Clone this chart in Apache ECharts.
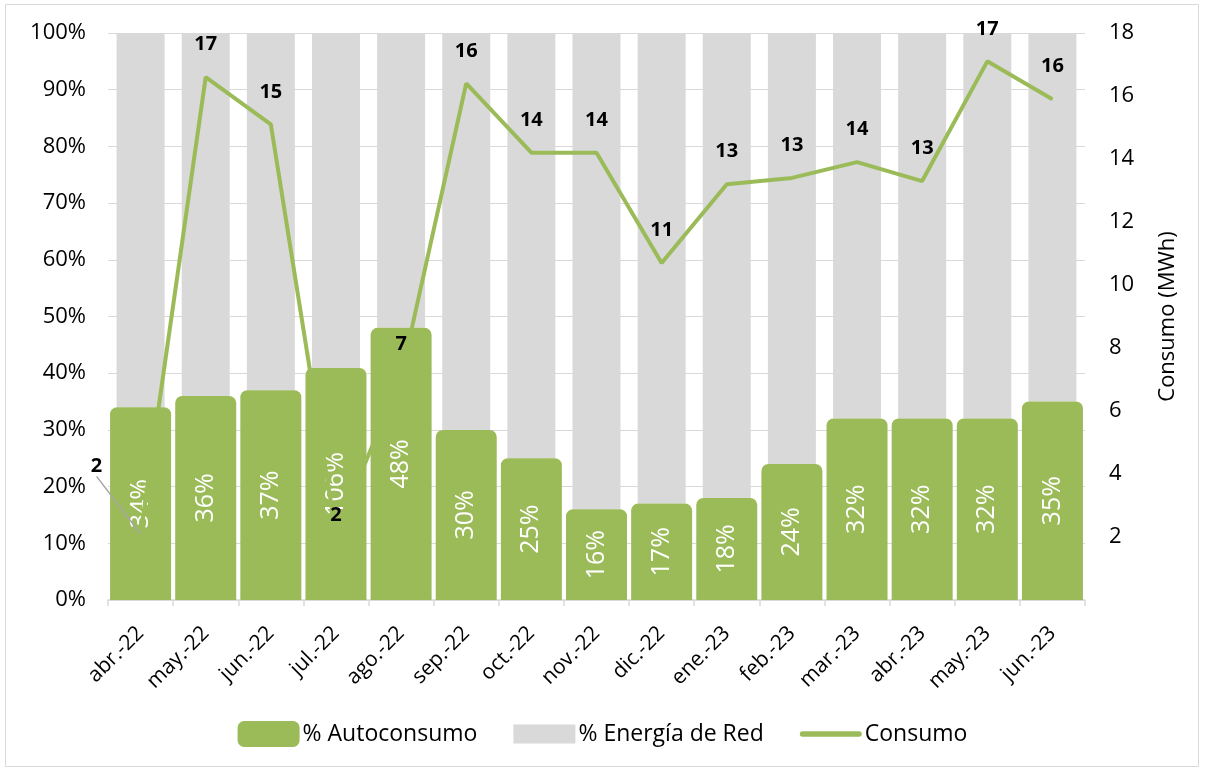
<!DOCTYPE html>
<html><head><meta charset="utf-8">
<script src="https://cdn.jsdelivr.net/npm/echarts@6/dist/echarts.min.js"></script>
<style>html,body{margin:0;padding:0;background:#fff}#c{width:1205px;height:771px}</style>
</head><body><div id="c"></div>
<script>
const categories = ['abr.-22','may.-22','jun.-22','jul.-22','ago.-22','sep.-22','oct.-22','nov.-22','dic.-22','ene.-23','feb.-23','mar.-23','abr.-23','may.-23','jun.-23'];
const autoconsumo = [34,36,37,106,48,30,25,16,17,18,24,32,32,32,35];
const energiaRed = [66,64,63,153,52,70,75,84,83,82,76,68,68,68,65];
const consumo = [2.1,16.6,15.1,2.1,7.1,16.4,14.2,14.2,10.7,13.2,13.4,13.9,13.3,17.1,15.9];
const pctTicks = [0,10,20,30,40,50,60,70,80,90,100];

const totals = autoconsumo.map((v,i)=>v+energiaRed[i]);
const autoShare = autoconsumo.map((v,i)=>v/totals[i]*100);
const redShare = energiaRed.map((v,i)=>v/totals[i]*100);
const GREEN = '#9BBB59', GRAY = '#D9D9D9';
const FONT = '"Open Sans", "Noto Sans", sans-serif';

const consumoData = consumo.map((v,i)=> i===0
  ? {value:v, labelLine:{show:true,lineStyle:{color:'#A6A6A6',width:1.5}}}
  : v);

const chart = echarts.init(document.getElementById('c'));
chart.setOption({
  animation:false,
  textStyle:{fontFamily:FONT},
  graphic:[{type:'rect',shape:{x:5.5,y:4.5,width:1193,height:762},style:{fill:'none',stroke:'#D9D9D9',lineWidth:1},silent:true}],
  grid:{left:108,right:120,top:33,bottom:171},
  legend:{
    bottom:19, left:'center', itemGap:36, itemWidth:62, itemHeight:26,
    textStyle:{fontSize:23,color:'#000',fontFamily:FONT,padding:[0,0,0,-2]},
    data:[
      {name:'% Autoconsumo',icon:'roundRect',itemStyle:{color:GREEN}},
      {name:'% Energía de Red',icon:'path://M0,0 L52,0 L52,16 L0,16 Z',itemStyle:{color:GRAY}},
      {name:'Consumo',icon:'path://M2,0 L54,0 A2.5,2.5 0 0 1 54,5 L2,5 A2.5,2.5 0 0 1 2,0 Z',itemStyle:{color:GREEN}}
    ]
  },
  xAxis:[{
    type:'category', data:categories,
    axisLine:{lineStyle:{color:'#D9D9D9',width:1.5}},
    axisTick:{show:true,length:6,lineStyle:{color:'#D9D9D9',width:1.5}},
    axisLabel:{rotate:45,fontSize:21,color:'#000',margin:30,fontFamily:FONT}
  },{
    type:'category', data:categories, show:false
  }],
  yAxis:[{
    type:'value',min:pctTicks[0],max:pctTicks[pctTicks.length-1],interval:10,
    axisLabel:{formatter:'{value}%',fontSize:22,color:'#000',margin:22,fontFamily:FONT},
    splitLine:{lineStyle:{color:'#D9D9D9',width:1}},
    axisLine:{show:false},axisTick:{show:false}
  },{
    type:'value',min:0,max:18,interval:2,position:'right',
    name:'Consumo (MWh)',nameLocation:'middle',nameGap:72,nameRotate:90,
    nameTextStyle:{fontSize:22,color:'#000',fontFamily:FONT},
    axisLabel:{fontSize:22,color:'#000',margin:24,showMinLabel:false,fontFamily:FONT},
    splitLine:{show:false},axisLine:{show:false},axisTick:{show:false}
  }],
  series:[{
    name:'base',type:'bar',stack:'red',xAxisIndex:0,barWidth:48,silent:true,
    data:autoShare,itemStyle:{color:'rgba(0,0,0,0)'}
  },{
    name:'% Energía de Red',type:'bar',stack:'red',xAxisIndex:0,barWidth:48,z:2,
    data:redShare,itemStyle:{color:GRAY}
  },{
    name:'% Autoconsumo',type:'bar',xAxisIndex:1,barWidth:61,z:3,
    data:autoShare,
    itemStyle:{color:GREEN,borderRadius:[7,7,0,0]},
    label:{show:true,position:'inside',rotate:90,color:'#fff',fontSize:25,fontFamily:FONT,
      formatter:p=>autoconsumo[p.dataIndex]+'%'}
  },{
    name:'Consumo',type:'line',xAxisIndex:0,yAxisIndex:1,z:5,data:consumoData,
    symbol:'circle',symbolSize:1,showSymbol:true,
    lineStyle:{color:GREEN,width:4},itemStyle:{color:GREEN},
    label:{show:true,position:'top',distance:22,fontSize:20,fontWeight:'bold',color:'#000',fontFamily:FONT,
      formatter:p=>Math.round(p.value)},
    labelLine:{show:false},
    labelLayout:function(p){ if(p.dataIndex===0){ return {dx:-44,dy:-35}; } if(p.dataIndex===3){ return {dy:14}; } return {}; }
  }]
});
</script></body></html>
